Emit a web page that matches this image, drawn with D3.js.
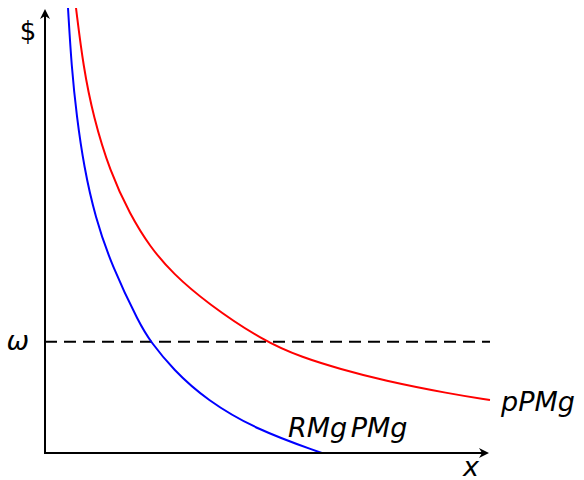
<!DOCTYPE html>
<html>
<head>
<meta charset="utf-8">
<script src="https://cdn.jsdelivr.net/npm/d3@7"></script>
<style>
  html, body { margin: 0; padding: 0; background: #fff; }
  svg { display: block; }
  text { font-family: "DejaVu Sans", sans-serif; fill: #000; }
</style>
</head>
<body>
<script>
// Marginal revenue product (RMg·PMg) and value of marginal product (p·PMg) against input x
const rmgX = [5.17, 5.96, 7.12, 8.76, 11.24, 15.06, 21.35, 23.6, 28.8, 36.3, 47.6, 62.2];
const rmgY = [100, 86.8, 75.6, 64.3, 53.1, 41.9, 28.8, 25.2, 18.7, 11.9, 5.2, 0];

const ppmgX = [6.97, 8.61, 10.85, 14.61, 19.1, 23.6, 28.76, 36.4, 48.99, 57.98, 66.29, 75.96, 91.01, 100];
const ppmgY = [100, 86.8, 75.6, 63.2, 53.6, 46.3, 40.3, 33.7, 25.2, 21.4, 18.9, 16.3, 13.3, 11.9];

const wage = 25;            // input price ω
const wageLabel = "ω";
const yAxisLabel = "$";
const xAxisLabel = "x";
const rmgLabel = "RMg PMg";
const ppmgLabel = "pPMg";

const W = 584, H = 480;
const svg = d3.select("body").append("svg").attr("width", W).attr("height", H);

const x = d3.scaleLinear().domain([0, 100]).range([45, 490]);
const y = d3.scaleLinear().domain([0, 100]).range([453, 8]);

// Wage level
svg.append("line")
  .attr("x1", x(0)).attr("x2", x(100))
  .attr("y1", y(wage)).attr("y2", y(wage))
  .attr("stroke", "#000").attr("stroke-width", 2)
  .attr("stroke-dasharray", "12,7");

// Curves
const line = d3.line().x(d => x(d[0])).y(d => y(d[1])).curve(d3.curveBasis);
svg.append("path")
  .datum(d3.zip(ppmgX, ppmgY))
  .attr("d", line).attr("fill", "none")
  .attr("stroke", "#ff0000").attr("stroke-width", 2);
svg.append("path")
  .datum(d3.zip(rmgX, rmgY))
  .attr("d", line).attr("fill", "none")
  .attr("stroke", "#0000ff").attr("stroke-width", 2);

// Axes
const yAxis = d3.axisLeft(y).tickValues([wage]).tickFormat(() => wageLabel)
  .tickSize(0).tickPadding(16);
const gy = svg.append("g").attr("transform", `translate(${x(0)},0)`).call(yAxis);
gy.select(".domain").attr("stroke-width", 2).attr("d", `M0,${y(0)}V${y(100) + 6}`);
gy.selectAll(".tick text")
  .attr("font-size", 27).attr("font-style", "italic")
  .attr("font-family", "'DejaVu Sans', sans-serif")
  .attr("dy", "0.3em");

const xAxis = d3.axisBottom(x).tickValues([]).tickSize(0);
const gx = svg.append("g").attr("transform", `translate(0,${y(0)})`).call(xAxis);
gx.select(".domain").attr("stroke-width", 2).attr("d", `M${x(0) - 1},0H${x(100) - 6}`);

// Arrowheads
function arrow(tx, ty, angle) {
  svg.append("path")
    .attr("d", "M0,0 L-10,-5 L-7,0 L-10,5 Z")
    .attr("transform", `translate(${tx},${ty}) rotate(${angle})`)
    .attr("fill", "#000");
}
arrow(x(0), y(100) + 1, -90);
arrow(x(100) - 1, y(0), 0);

// Labels
svg.append("text").attr("x", 28).attr("y", 40)
  .attr("text-anchor", "middle").attr("font-size", 26).text(yAxisLabel);
svg.append("text").attr("x", 471).attr("y", 476)
  .attr("text-anchor", "middle").attr("font-size", 27).attr("font-style", "italic")
  .text(xAxisLabel);
svg.append("text").attr("x", 288).attr("y", 437)
  .attr("font-size", 27).attr("font-style", "italic").attr("word-spacing", -5)
  .text(rmgLabel);
svg.append("text").attr("x", 501).attr("y", 411)
  .attr("font-size", 27).attr("font-style", "italic")
  .text(ppmgLabel);
</script>
</body>
</html>
